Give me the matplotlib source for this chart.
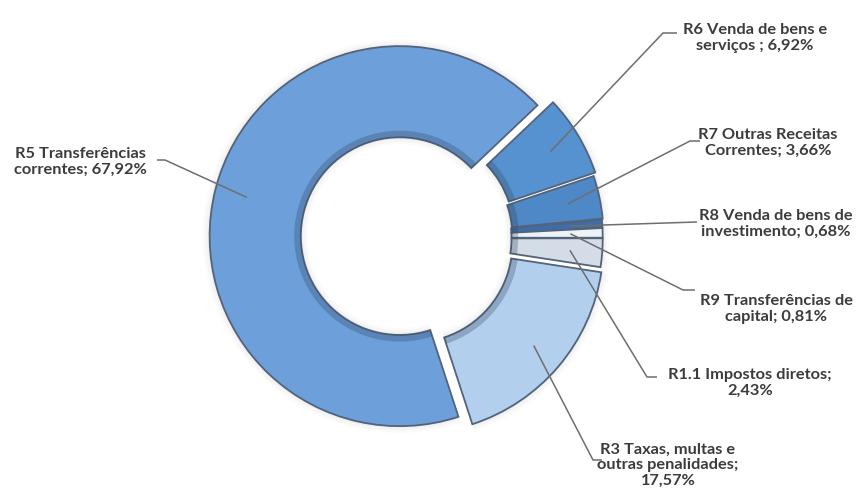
import numpy as np
import matplotlib.pyplot as plt

# dados (ordem no sentido horário a partir do topo-direito)
labels = ['R6 Venda de bens e\nserviços ; 6,92%',
          'R7 Outras Receitas\nCorrentes; 3,66%',
          'R8 Venda de bens de\ninvestimento; 0,68%',
          'R9 Transferências de\ncapital; 0,81%',
          'R1.1 Impostos diretos;\n2,43%',
          'R3 Taxas, multas e\noutras penalidades;\n17,57%',
          'R5 Transferências\ncorrentes; 67,92%']
values = [6.92, 3.66, 0.68, 0.81, 2.43, 17.57, 67.92]
colors = ['#5792d0', '#4f88c6', '#3d6eab', '#eef2f7', '#d3dce7', '#b3cfee', '#6da0da']
explode = [0.05, 0.035, 0.03, 0.03, 0.03, 0.045, 0.04]

# posições dos rótulos (pixels) e cotovelo das linhas
text_px = [(755, 38), (768, 143), (776, 224), (776, 309), (750, 383), (668, 465), (80, 162)]
elbow_px = [[(663, 33), (677, 33)],
            [(690, 141), (700, 141)],
            [(697, 222)],
            [(683, 290), (695, 290)],
            [(647, 377), (657, 377)],
            [(593, 460), (602, 460)],
            [(165, 160), (157, 160)]]

CX, CY, R = 407, 238, 190.0


def px(p):
    return ((p[0] - CX) / R, (CY - p[1]) / R)


fig = plt.figure(figsize=(8.6, 4.95), dpi=100)
ax = fig.add_axes([0, 0, 1, 1])

start = 43.5
# sombra suave por trás do anel
for k, a in enumerate([0.05, 0.04, 0.03]):
    ax.pie(values, colors=['#808080'] * len(values), explode=explode, startangle=start,
           counterclock=False, radius=1.0 + 0.012 * (k + 1),
           wedgeprops=dict(width=0.48 + 0.024 * (k + 1), edgecolor='none', alpha=a))
wedges, _ = ax.pie(values, colors=colors, explode=explode, startangle=start,
                   counterclock=False, radius=1.0,
                   wedgeprops=dict(width=0.48, edgecolor='#52637a', linewidth=1.3))
# bisel: faixa escura junto ao bordo interior
ax.pie(values, colors=['#2c3e55'] * len(values), explode=explode, startangle=start,
       counterclock=False, radius=0.555,
       wedgeprops=dict(width=0.035, edgecolor='none', alpha=0.28))
ax.set_xlim(-CX / R, (860 - CX) / R)
ax.set_ylim(-(495 - CY) / R, CY / R)
ax.set_aspect('equal', adjustable='datalim')
ax.axis('off')

# linhas de chamada e textos
tot = sum(values)
ang = start
for i, v in enumerate(values):
    span = v / tot * 360
    mid = np.deg2rad(ang - span / 2)
    ang -= span
    r0 = 0.83 + explode[i]
    p0 = (r0 * np.cos(mid), r0 * np.sin(mid))
    pts = [p0] + [px(p) for p in elbow_px[i]]
    xs, ys = zip(*pts)
    ax.plot(xs, ys, color='#6e6e6e', lw=1.1, solid_capstyle='butt', zorder=5)
    tx, ty = px(text_px[i])
    ax.text(tx, ty, labels[i], ha='center', va='center', fontsize=11.8,
            family='Lato', fontweight='bold', color='#3c3c3c', linespacing=1.13)

fig.savefig('out.png', dpi=100, facecolor='white')
